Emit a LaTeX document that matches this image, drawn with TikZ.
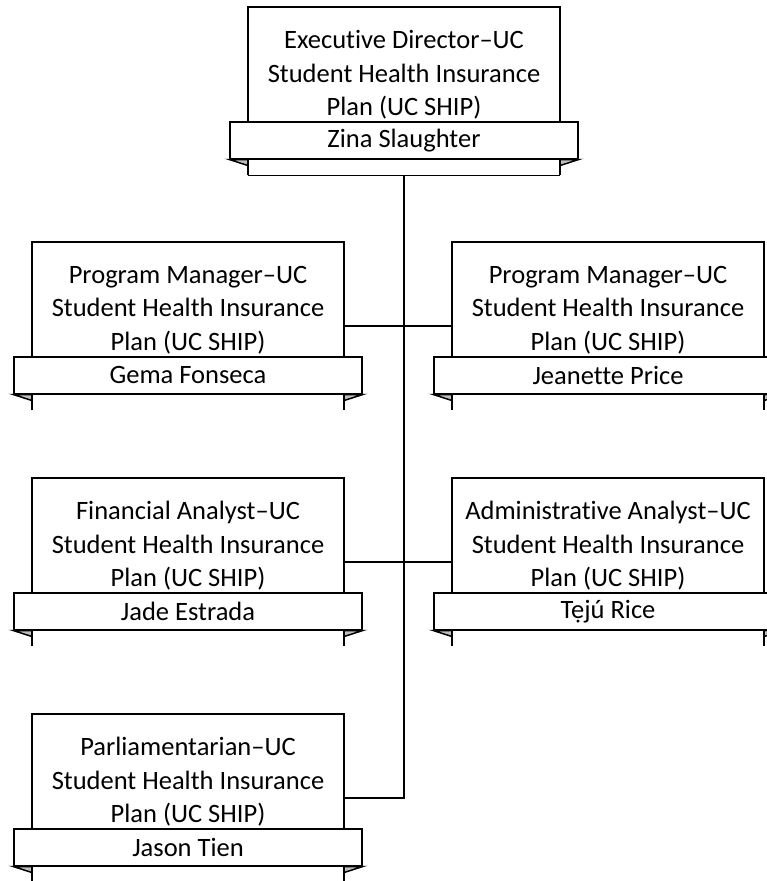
\documentclass[tikz,border=0pt]{standalone}
\usepackage{fontspec}
\setmainfont{Carlito}[Ligatures={NoCommon}]
\tikzset{
  boxsty/.style={rectangle, minimum width=312pt, minimum height=168pt, inner sep=0pt, anchor=north},
  ribbon/.style={rectangle, draw, line width=1.5pt, fill=white, minimum width=348pt, minimum height=37pt, inner sep=0pt, anchor=north, font=\fontsize{26.5}{30}\selectfont},
  titletext/.style={align=center, font=\fontsize{26.5}{33.5}\selectfont, inner sep=0pt},
  edge/.style={line width=1.5pt},
  fold/.style={line width=1.5pt, fill=black!25, line join=miter},
  conn/.style={line width=2.4pt}
}
% #1 name, #2 center x, #3 box top y, #4 title, #5 person
\newcommand\OrgUnit[5]{%
  \node[boxsty] (#1) at (#2,#3) {};
  \draw[edge] (#1.south west) -- (#1.north west) -- (#1.north east) -- (#1.south east);
  \node[titletext] (#1t) at ([yshift=-68pt]#1.north) {#4};
  \node[ribbon] (#1r) at ([yshift=-114pt]#1.north) {#5};
  \draw[fold] (#1r.south west) -- (#1r.south west -| #1.west) -- ++(0,6) -- cycle;
  \draw[fold] (#1r.south east) -- (#1r.south east -| #1.east) -- ++(0,6) -- cycle;
}
\begin{document}
\begin{tikzpicture}[x=1pt,y=-1pt]
\useasboundingbox (0,0) rectangle (767,881);
\clip (0,0) rectangle (767,881);
\fill[white] (0,0) rectangle (767,881);
\OrgUnit{ed}{404}{7}{Executive Director–UC\\Student Health Insurance\\Plan (UC SHIP)}{Zina Slaughter}
\draw[edge] (ed.south west) -- (ed.south east);
\OrgUnit{pmL}{188}{242}{Program Manager–UC\\Student Health Insurance\\Plan (UC SHIP)}{Gema Fonseca}
\OrgUnit{pmR}{608}{242}{Program Manager–UC\\Student Health Insurance\\Plan (UC SHIP)}{Jeanette Price}
\OrgUnit{fa}{188}{478}{Financial Analyst–UC\\Student Health Insurance\\Plan (UC SHIP)}{Jade Estrada}
\OrgUnit{aa}{608}{478}{Administrative Analyst–UC\\Student Health Insurance\\Plan (UC SHIP)}{Tẹjú Rice}
\OrgUnit{pp}{188}{714}{Parliamentarian–UC\\Student Health Insurance\\Plan (UC SHIP)}{Jason Tien}
\draw[conn] (ed.south) -- (ed.south |- pp.east) -- (pp.east);
\draw[conn] (pmL.east) -- (pmR.west);
\draw[conn] (fa.east) -- (aa.west);
\end{tikzpicture}
\end{document}
